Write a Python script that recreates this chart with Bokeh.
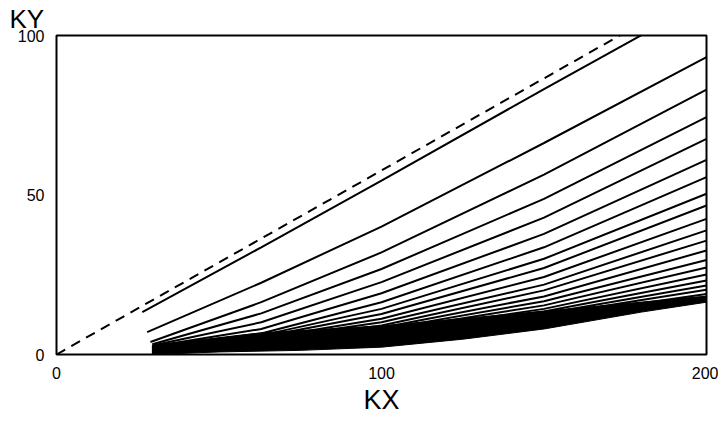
from bokeh.plotting import figure
from bokeh.models import Range1d
from bokeh.embed import file_html
from bokeh.resources import INLINE

# ---- data ----
x_ticks = [0, 100, 200]
y_ticks = [0, 50, 100]

# dashed reference line
dash_x = [0, 173.3]
dash_y = [0, 100]

# solid curves: start point (on k ~ 30) and values at common KX positions
curve_start_x = [26.4, 27.9, 28.9, 29.5, 29.5, 29.5, 29.5, 29.5, 29.5, 29.5,
                 29.5, 29.5, 29.5, 29.5, 29.5, 29.5, 29.5, 29.5, 29.5, 29.5]
curve_start_y = [13.3, 7.0, 3.9, 3.2, 2.8, 2.5, 2.3, 2.1, 1.95, 1.8,
                 1.7, 1.6, 1.5, 1.4, 1.3, 1.2, 1.1, 1.0, 0.95, 0.9]
curve_kx = [63, 100, 150, 200]
y_at_63 = [33.6, 22.5, 16.4, 12.9, 10.1, 8.0, 6.6, 6.0, 5.5, 5.0,
           4.7, 4.4, 4.1, 3.9, 3.7, 3.5, 3.3, 3.1, 3.0, 2.9]
y_at_100 = [54.5, 40.1, 32.0, 26.8, 22.7, 19.2, 16.4, 14.3, 12.7, 11.2,
            10.1, 9.1, 8.4, 7.8, 7.3, 6.8, 6.4, 6.0, 5.7, 5.4]
y_at_150 = [83.2, 66.3, 56.4, 48.8, 42.9, 37.8, 33.6, 30.0, 27.1, 24.3,
            21.9, 20.1, 18.2, 16.7, 15.4, 14.3, 13.5, 12.8, 12.2, 11.7]
y_at_200 = [111.4, 93.2, 83.0, 74.4, 67.6, 61.0, 55.6, 50.4, 46.7, 42.5,
            38.9, 35.7, 32.6, 29.6, 27.3, 25.1, 23.2, 21.6, 20.3, 19.0]

# dense (black) band of curves
band_top_x = [29.5, 63, 100, 150, 200]
band_top_y = [2.9, 6.8, 9.0, 13.6, 18.3]
band_bot_x = [29.5, 50, 75, 100, 125, 150, 180, 200]
band_bot_y = [0.0, 0.8, 1.3, 2.3, 4.8, 8.0, 13.3, 16.4]

FONT = "Liberation Sans"

p = figure(width=718, height=420, x_range=Range1d(0, 200), y_range=Range1d(0, 100),
           output_backend="svg", toolbar_location=None,
           min_border_left=56, min_border_right=12, min_border_top=35, min_border_bottom=66)
p.background_fill_color = "white"
p.border_fill_color = "white"
p.grid.visible = False
p.outline_line_color = "black"
p.outline_line_width = 2

p.title.text = "KY"
p.title.text_font = FONT
p.title.text_font_size = "26px"
p.title.text_font_style = "normal"
p.title.text_color = "black"
p.title.align = "left"
p.title.offset = -47
p.title.standoff = 0
p.title.vertical_align = "top"

for ax in (p.xaxis, p.yaxis):
    ax.axis_line_color = None
    ax.major_tick_line_color = None
    ax.minor_tick_line_color = None
    ax.major_tick_out = 0
    ax.major_tick_in = 0
    ax.major_label_text_font = FONT
    ax.major_label_text_font_size = "16px"
    ax.major_label_text_color = "black"
p.xaxis.ticker = x_ticks
p.yaxis.ticker = y_ticks
p.xaxis.major_label_standoff = 12
p.yaxis.major_label_standoff = 12
p.xaxis.axis_label = "KX"
p.xaxis.axis_label_text_font = FONT
p.xaxis.axis_label_text_font_size = "27px"
p.xaxis.axis_label_text_font_style = "normal"
p.xaxis.axis_label_text_color = "black"
p.xaxis.axis_label_standoff = 3

# band
p.patch(band_bot_x + band_top_x[::-1], band_bot_y + band_top_y[::-1],
        fill_color="black", line_color="black", line_width=1)

# curves
xs = [[sx] + curve_kx for sx in curve_start_x]
ys = [[sy, a, b, c, d] for sy, a, b, c, d in
      zip(curve_start_y, y_at_63, y_at_100, y_at_150, y_at_200)]
p.multi_line(xs, ys, line_color="black", line_width=2)

# dashed line
p.line(dash_x, dash_y, line_color="black", line_width=2, line_dash="10 7")

open("out.html", "w").write(file_html(p, INLINE))
